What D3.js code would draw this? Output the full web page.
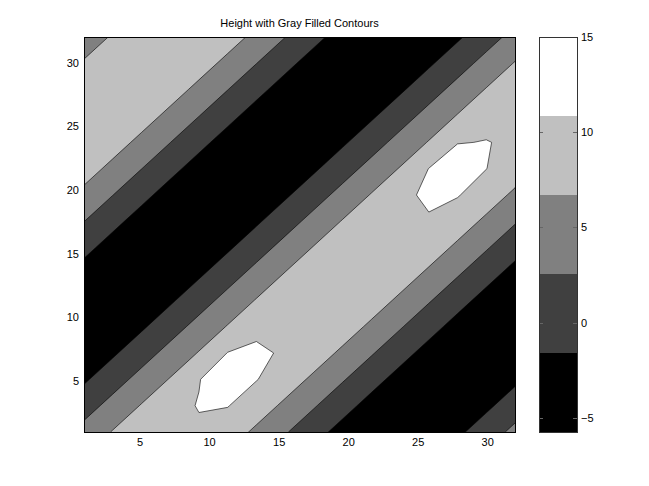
<!DOCTYPE html>
<html>
<head>
<meta charset="utf-8">
<script src="https://cdn.jsdelivr.net/npm/d3@7"></script>
<style>
  body { margin: 0; background: #fff; }
  svg { display: block; font-family: "Liberation Sans", Arial, Helvetica, sans-serif; }
</style>
</head>
<body>
<script>
const W = 649, H = 486;

// surface heights, 16 x 16 samples spread evenly over 1..32
// rows go from y = 1 (bottom) to y = 32 (top)
const xLim = [1, 32];
const yLim = [1, 32];
const heightRows = [
  [3.96, 6.92, 9.13, 10.24, 10.10, 8.52, 6.02, 2.92, -0.23, -2.91, -4.66, -5.17, -4.36, -2.34, 0.44, 3.65],
  [0.76, 3.96, 6.92, 9.17, 11.10, 11.00, 8.52, 6.02, 2.92, -0.23, -2.91, -4.66, -5.17, -4.36, -2.34, 0.44],
  [-2.13, 0.76, 3.96, 6.92, 10.60, 14.70, 11.00, 8.52, 6.02, 2.92, -0.23, -2.91, -4.66, -5.17, -4.36, -2.34],
  [-4.22, -2.13, 0.76, 3.96, 6.92, 10.95, 11.80, 10.20, 8.52, 6.02, 2.92, -0.23, -2.91, -4.66, -5.17, -4.36],
  [-5.15, -4.22, -2.13, 0.76, 3.96, 6.92, 9.60, 10.30, 10.01, 8.52, 6.02, 2.92, -0.23, -2.91, -4.66, -5.17],
  [-4.77, -5.15, -4.22, -2.13, 0.76, 3.96, 6.92, 9.13, 10.22, 10.01, 8.52, 6.02, 2.92, -0.23, -2.91, -4.66],
  [-3.14, -4.77, -5.15, -4.22, -2.13, 0.76, 3.96, 6.92, 9.13, 10.22, 10.01, 8.52, 6.02, 2.92, -0.23, -2.91],
  [-0.52, -3.14, -4.77, -5.15, -4.22, -2.13, 0.76, 3.96, 6.92, 9.13, 10.22, 10.01, 8.52, 6.02, 2.92, -0.23],
  [2.61, -0.52, -3.14, -4.77, -5.15, -4.22, -2.13, 0.76, 3.96, 6.92, 9.13, 10.00, 10.21, 8.52, 6.02, 2.92],
  [5.74, 2.61, -0.52, -3.14, -4.77, -5.15, -4.22, -2.13, 0.76, 3.96, 6.92, 9.30, 12.00, 11.10, 8.52, 6.02],
  [8.32, 5.74, 2.61, -0.52, -3.14, -4.77, -5.15, -4.22, -2.13, 0.76, 3.96, 6.92, 10.90, 14.65, 10.90, 8.52],
  [9.92, 8.32, 5.74, 2.61, -0.52, -3.14, -4.77, -5.15, -4.22, -2.13, 0.76, 3.96, 6.92, 10.60, 11.02, 10.05],
  [10.26, 9.92, 8.32, 5.74, 2.61, -0.52, -3.14, -4.77, -5.15, -4.22, -2.13, 0.76, 3.96, 6.92, 9.17, 10.22],
  [9.29, 10.26, 9.92, 8.32, 5.74, 2.61, -0.52, -3.14, -4.77, -5.15, -4.22, -2.13, 0.76, 3.96, 6.92, 9.13],
  [7.16, 9.29, 10.26, 9.92, 8.32, 5.74, 2.61, -0.52, -3.14, -4.77, -5.15, -4.22, -2.13, 0.76, 3.96, 6.92],
  [4.26, 7.16, 9.29, 10.26, 9.92, 8.32, 5.74, 2.61, -0.52, -3.14, -4.77, -5.15, -4.22, -2.13, 0.76, 3.96]
];

// contour levels and colorbar limits
const levels = [-5.72, -1.58, 2.56, 6.70, 10.84];
const levelTop = 14.98;
const grays = ['#000000', '#404040', '#808080', '#c0c0c0', '#ffffff'];

const xTicks = [5, 10, 15, 20, 25, 30];
const yTicks = [5, 10, 15, 20, 25, 30];
const cbTicks = [-5, 0, 5, 10, 15];
const title = 'Height with Gray Filled Contours';

const plot = { left: 84, right: 515, top: 37, bottom: 432 };
const bar = { left: 539, right: 577 };

const svg = d3.select('body').append('svg')
  .attr('width', W)
  .attr('height', H);

svg.append('rect')
  .attr('width', W)
  .attr('height', H)
  .attr('fill', '#fff');

const x = d3.scaleLinear().domain(xLim).range([plot.left, plot.right]);
const y = d3.scaleLinear().domain(yLim).range([plot.bottom, plot.top]);

const n = heightRows[0].length;
const m = heightRows.length;
const stepX = (xLim[1] - xLim[0]) / (n - 1);
const stepY = (yLim[1] - yLim[0]) / (m - 1);

const contours = d3.contours()
  .size([n, m])
  .thresholds(levels)(heightRows.flat());

// d3.contours puts sample i at i + 0.5
const toData = d3.geoTransform({
  point(cx, cy) {
    this.stream.point(x(xLim[0] + (cx - 0.5) * stepX), y(yLim[0] + (cy - 0.5) * stepY));
  }
});
const path = d3.geoPath(toData);

svg.append('clipPath')
  .attr('id', 'plot-clip')
  .append('rect')
  .attr('x', plot.left)
  .attr('y', plot.top)
  .attr('width', plot.right - plot.left)
  .attr('height', plot.bottom - plot.top);

svg.append('g')
  .attr('clip-path', 'url(#plot-clip)')
  .selectAll('path')
  .data(contours)
  .join('path')
  .attr('d', path)
  .attr('fill', (d, i) => grays[i])
  .attr('stroke', '#000')
  .attr('stroke-width', 0.6)
  .attr('stroke-linejoin', 'round');

svg.append('rect')
  .attr('x', plot.left + 0.5)
  .attr('y', plot.top + 0.5)
  .attr('width', plot.right - plot.left)
  .attr('height', plot.bottom - plot.top)
  .attr('fill', 'none')
  .attr('stroke', '#000');

const xAxis = svg.append('g')
  .attr('transform', `translate(0,${plot.bottom})`)
  .call(d3.axisBottom(x).tickValues(xTicks).tickSize(0).tickPadding(6));

const yAxis = svg.append('g')
  .attr('transform', `translate(${plot.left},0)`)
  .call(d3.axisLeft(y).tickValues(yTicks).tickSize(0).tickPadding(5));

[xAxis, yAxis].forEach(g => {
  g.select('.domain').remove();
  g.selectAll('text')
    .attr('font-family', '"Liberation Sans", Arial, Helvetica, sans-serif')
    .attr('font-size', 11)
    .attr('fill', '#000');
});

svg.append('text')
  .attr('x', (plot.left + plot.right) / 2)
  .attr('y', 27)
  .attr('text-anchor', 'middle')
  .attr('font-size', 11)
  .attr('fill', '#000')
  .text(title);

// colorbar
const cb = d3.scaleLinear().domain([levels[0], levelTop]).range([plot.bottom, plot.top]);
const bands = levels.map((lo, i) => ({ lo, hi: i + 1 < levels.length ? levels[i + 1] : levelTop, color: grays[i] }));

svg.append('g')
  .selectAll('rect')
  .data(bands)
  .join('rect')
  .attr('x', bar.left)
  .attr('y', d => cb(d.hi))
  .attr('width', bar.right - bar.left)
  .attr('height', d => cb(d.lo) - cb(d.hi))
  .attr('fill', d => d.color);

const cbTickG = svg.append('g');
cbTickG.selectAll('line.l')
  .data(cbTicks)
  .join('line')
  .attr('class', 'l')
  .attr('x1', bar.left)
  .attr('x2', bar.left + 4)
  .attr('y1', d => Math.round(cb(d)) + 0.5)
  .attr('y2', d => Math.round(cb(d)) + 0.5)
  .attr('stroke', '#666');
cbTickG.selectAll('line.r')
  .data(cbTicks)
  .join('line')
  .attr('class', 'r')
  .attr('x1', bar.right - 4)
  .attr('x2', bar.right)
  .attr('y1', d => Math.round(cb(d)) + 0.5)
  .attr('y2', d => Math.round(cb(d)) + 0.5)
  .attr('stroke', '#666');

svg.append('rect')
  .attr('x', bar.left + 0.5)
  .attr('y', plot.top + 0.5)
  .attr('width', bar.right - bar.left)
  .attr('height', plot.bottom - plot.top)
  .attr('fill', 'none')
  .attr('stroke', '#333');

const cbAxis = svg.append('g')
  .attr('transform', `translate(${bar.right},0)`)
  .call(d3.axisRight(cb).tickValues(cbTicks).tickSize(0).tickPadding(4));
cbAxis.select('.domain').remove();
cbAxis.selectAll('text')
  .attr('font-family', '"Liberation Sans", Arial, Helvetica, sans-serif')
  .attr('font-size', 11)
  .attr('fill', '#000');
</script>
</body>
</html>
